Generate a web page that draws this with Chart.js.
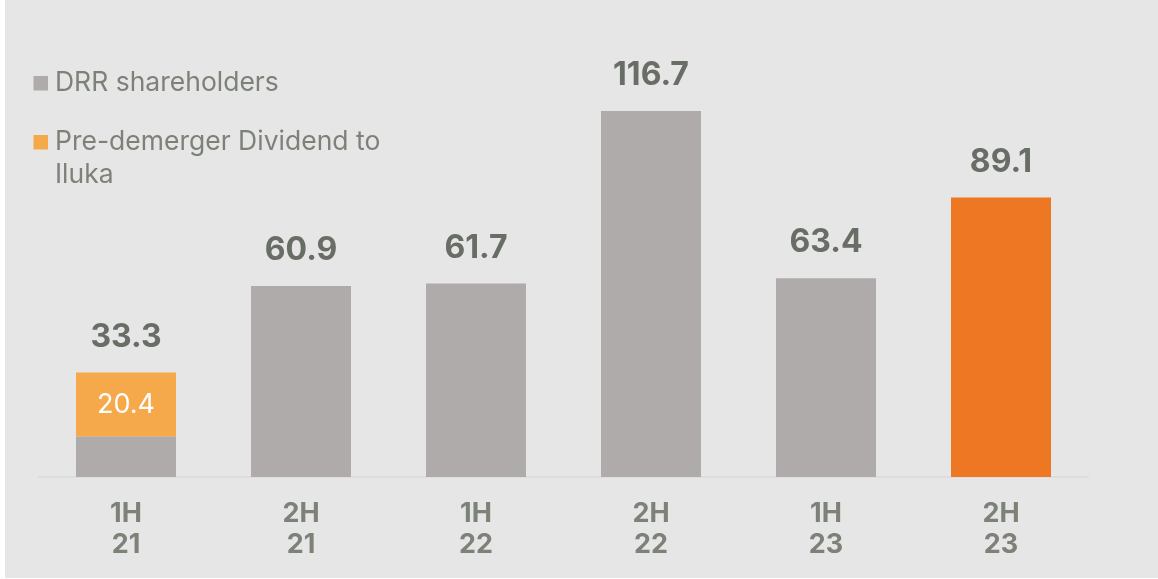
<!DOCTYPE html>
<html>
<head>
<meta charset="utf-8">
<script src="https://cdn.jsdelivr.net/npm/chart.js@4/dist/chart.umd.min.js"></script>
<style>
  html, body { margin: 0; padding: 0; background: #ffffff; }
  #wrap { position: absolute; left: 5px; top: 0; width: 1153px; height: 578px; background: #e6e6e6; }
</style>
</head>
<body>
<div id="wrap"><canvas id="myChart" width="1153" height="578"></canvas></div>
<script>
// half-year periods
const periods = [["1H", "21"], ["2H", "21"], ["1H", "22"], ["2H", "22"], ["1H", "23"], ["2H", "23"]]
// dividends paid, $m
const drrShareholders = [12.9, 60.9, 61.7, 116.7, 63.4, 89.1]
const preDemergerDividend = [20.4, null, null, null, null, null]

const grey = "#afabaa"
const lightOrange = "#f6a94a"
const darkOrange = "#ed7723"
const labelGrey = "#7d8279"
const valueGrey = "#686d65"
const font = "Inter, 'Noto Sans', sans-serif"

// totals above each bar and the value inside the orange segment
const valueLabels = {
  id: "valueLabels",
  afterDatasetsDraw(chart) {
    const ctx = chart.ctx
    const base = chart.getDatasetMeta(0)
    const top = chart.getDatasetMeta(1)
    ctx.save()
    ctx.textAlign = "center"
    ctx.textBaseline = "alphabetic"
    periods.forEach((p, i) => {
      const total = (drrShareholders[i] || 0) + (preDemergerDividend[i] || 0)
      const y = chart.scales.y.getPixelForValue(total)
      ctx.fillStyle = valueGrey
      ctx.font = "bold 32px " + font
      ctx.fillText(total.toFixed(1), base.data[i].x, y - 26)
      if (preDemergerDividend[i]) {
        const bar = top.data[i]
        ctx.fillStyle = "#ffffff"
        ctx.font = "27px " + font
        ctx.textBaseline = "middle"
        ctx.fillText(preDemergerDividend[i].toFixed(1), bar.x, (bar.y + bar.base) / 2)
        ctx.textBaseline = "alphabetic"
      }
    })
    ctx.restore()
  },
}

// legend in the top left corner, wrapped to a fixed width
const sideLegend = {
  id: "sideLegend",
  afterDraw(chart) {
    const ctx = chart.ctx
    ctx.save()
    ctx.font = "26.5px " + font
    ctx.fillStyle = labelGrey
    let y = 91
    chart.data.datasets.forEach((ds) => {
      const words = ds.label.split(" ")
      const lines = []
      let line = ""
      words.forEach((w) => {
        const t = line ? line + " " + w : w
        if (ctx.measureText(t).width > 345 && line) {
          lines.push(line)
          line = w
        } else line = t
      })
      lines.push(line)
      ctx.fillStyle = ds.legendColor
      ctx.fillRect(28.5, y - 15, 14.5, 14.5)
      ctx.fillStyle = labelGrey
      lines.forEach((l, k) => ctx.fillText(l, 50, y + k * 32.5))
      y += 59
    })
    ctx.restore()
  },
}

const ctx = document.getElementById("myChart").getContext("2d")
const myChart = new Chart(ctx, {
  type: "bar",
  data: {
    labels: periods,
    datasets: [
      {
        label: "DRR shareholders",
        data: drrShareholders,
        backgroundColor: drrShareholders.map((v, i) => (i === drrShareholders.length - 1 ? darkOrange : grey)),
        legendColor: grey,
      },
      {
        label: "Pre-demerger Dividend to Iluka",
        data: preDemergerDividend,
        backgroundColor: lightOrange,
        legendColor: lightOrange,
      },
    ],
  },
  options: {
    responsive: false,
    animation: false,
    layout: { padding: { left: 33.5, right: 69.5, top: 38, bottom: 0 } },
    datasets: {
      bar: { categoryPercentage: 1, barPercentage: 100 / 175, borderWidth: 0 },
    },
    plugins: {
      legend: { display: false },
      tooltip: { enabled: false },
    },
    scales: {
      x: {
        stacked: true,
        grid: { display: false, drawTicks: false },
        border: { display: true, color: "#dddddd", width: 2 },
        ticks: {
          color: labelGrey,
          padding: 22,
          font: { family: font, size: 27, weight: "bold", lineHeight: 1.13 },
        },
        afterFit(scale) {
          scale.height = 101
        },
      },
      y: {
        stacked: true,
        display: false,
        min: 0,
        max: 140,
      },
    },
  },
  plugins: [valueLabels, sideLegend],
})
</script>
</body>
</html>
